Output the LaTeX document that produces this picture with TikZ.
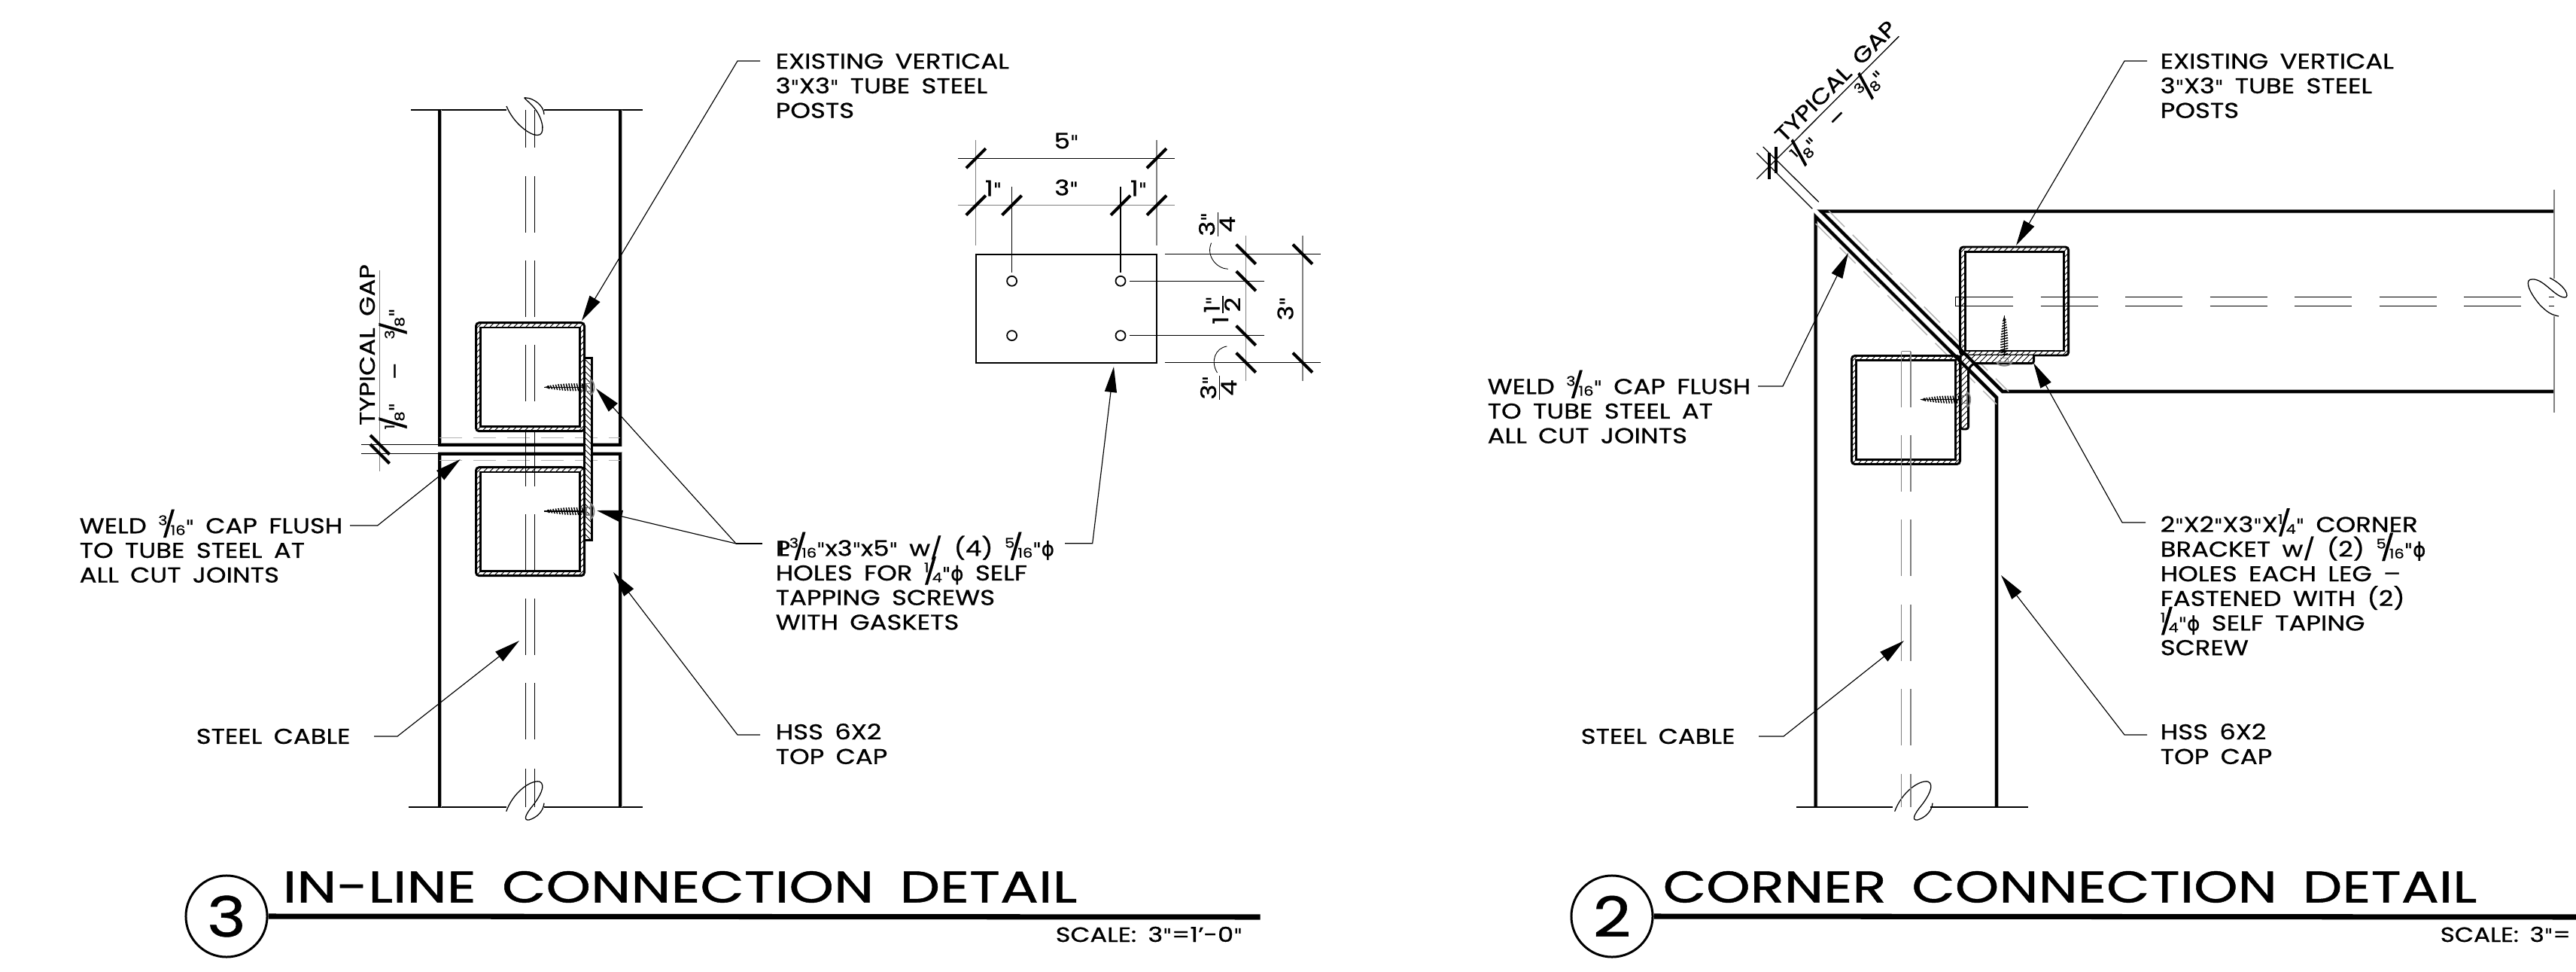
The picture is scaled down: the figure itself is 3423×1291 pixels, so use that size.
\documentclass[tikz,border=0pt]{standalone}
\usepackage{fontspec}
\usetikzlibrary{arrows.meta}
\setmainfont[WordSpace=1.7,FakeStretch=1.19,FakeBold=0.8]{Poppins}
\newfontfamily\symfont[FakeBold=0.8]{DejaVu Sans}
\newcommand\cadtxt{\fontsize{8.1}{9.3}\selectfont}
\newcommand\inch{{\symfont\fontsize{7}{9}\selectfont"}}
\newcommand\fr[2]{\smash{\raisebox{.38em}{\fontsize{5}{5}\selectfont #1}\kern-.26em{\fontsize{9.5}{9.5}\selectfont/}\kern-.26em\raisebox{-.08em}{\fontsize{5}{5}\selectfont #2}}}
\newcommand\phisym{{\symfont\fontsize{7.5}{9}\selectfont ϕ}}
\newcommand\plsym{\rlap{P}\kern.12em L}
\newcommand\stk[2]{$\frac{\hbox{\cadtxt #1}}{\hbox{\cadtxt #2}}$}
\tikzset{
  thk/.style={line width=1.14pt,line cap=butt,preaction={draw=gray!60,line width=1.45pt}},
  tb/.style={line width=0.85pt},
  thn/.style={line width=0.36pt},
  hat/.style={line width=0.25pt},
  tick/.style={line width=1.15pt},
  gaydash/.style={line width=0.4pt,draw=gray!60,dash pattern=on 8.5pt off 4.27pt},
  leader/.style={line width=0.33pt},
  arr/.style={leader,-{Triangle[length=0.34cm,width=0.16cm]}},
  lbl/.style={anchor=west,inner sep=0pt,align=left,font=\cadtxt},
  dim/.style={inner sep=0pt,font=\cadtxt},
  titletext/.style={anchor=west,inner sep=0pt,font=\fontsize{16.7}{18}\selectfont},
  scaletext/.style={anchor=west,inner sep=0pt,font=\fontsize{7.8}{9}\selectfont},
  numcirc/.style={circle,draw,line width=.85pt,minimum size=1.08cm,inner sep=0pt,font=\fontsize{21}{24}\selectfont},
  bar/.style={line width=2pt}
}
\newcommand\tube[2]{%
  \begin{scope}[shift={(#1,#2)}]
    \begin{scope}
      \clip[rounded corners=1.2pt] (0,0) rectangle (144,144);
      \foreach \k in {-150,-142,...,150} {\draw[hat] (\k+150,0) -- (\k,150);}
      \fill[white] (6.3,6.3) rectangle (138,138);
    \end{scope}
    \draw[tb,rounded corners=1.2pt] (0,0) rectangle (144,144);
    \draw[tb] (6.3,6.3) rectangle (138,138);
  \end{scope}}
\newcommand\screw[3]{%
  \begin{scope}[shift={(#1,#2)},rotate=#3]
    \draw[line width=.45pt] (0,0) -- (54,0);
    \fill (0,0) -- (7,-2) -- (7,2) -- cycle;
    \foreach \i/\h in {0/2,1/2.5,2/3,3/3.5,4/4,5/4.3,6/4.6,7/4.8,8/5,9/5,10/5,11/5,12/5,13/5} {
      \draw[line width=.42pt] (6+\i*3.5-1.2,-\h) -- (6+\i*3.5+1.2,\h);}
    \draw[line width=.3pt,gray] (56,-5) rectangle (62,5);
    \draw[line width=.5pt,gray] (62,-10) .. controls (68,-7) and (68,7) .. (62,10) -- cycle;
  \end{scope}}
\begin{document}
\begin{tikzpicture}[x=0.01cm,y=-0.01cm]
\useasboundingbox (0,0) rectangle (3423,1291);

% ---------- left detail : posts ----------
\draw[thn] (546,146) -- (673,146);
\draw[thn] (723,146) -- (854,146);
\draw[thn] (543,1072) -- (673,1072);
\draw[thn] (723,1072) -- (854,1072);
\draw[thk] (584.3,146) -- (584.3,590.7) -- (824.3,590.7) -- (824.3,146);
\draw[thk] (584.3,1072) -- (584.3,602.7) -- (824.3,602.7) -- (824.3,1072);
\draw[gaydash] (584,581.7) -- (824,581.7);
\draw[gaydash] (584,611.7) -- (824,611.7);
\draw[thn] (480,590.7) -- (584,590.7);
\draw[thn] (480,602.7) -- (584,602.7);
\draw[thn,gray] (504.7,359) -- (504.7,626);
\draw[tick] (492,578) -- (517.5,603.5);
\draw[tick] (492,590) -- (517.5,615.5);

% break lines
\draw[thn] (673,141) .. controls (683,165) and (705,180) .. (714,179.5)
  .. controls (725,180) and (722,160) .. (712,146) .. controls (705,136) and (692,128) .. (699,130)
  .. controls (708,130) and (723,140) .. (723,152);
\draw[thn] (672.7,1077.7) .. controls (682,1052) and (705,1036) .. (716.7,1038)
  .. controls (727,1042) and (716,1060) .. (708,1070) .. controls (698,1082) and (695,1090) .. (703,1089)
  .. controls (713,1086) and (722,1078) .. (723,1066.7);

% tubes
\tube{632.5}{428.7}
\tube{632.5}{620.7}

% cable
\foreach \a/\b in {146/196,234/309,346/421,458/533,571/646,683/758,795/870,907/982,1020.5/1072} {
  \draw[thn] (698.3,\a) -- (698.3,\b);
  \draw[thn] (710.3,\a) -- (710.3,\b);
}

% plate on the posts
\begin{scope}
  \clip (776,475.7) rectangle (786.7,717.7);
  \fill[white] (776,475.7) rectangle (786.7,717.7);
  \foreach \k in {470,478,...,720} {\draw[hat] (770,\k) -- (795,\k+25);}
\end{scope}
\draw[tb] (776,475.7) rectangle (786.7,717.7);
\screw{723}{514.3}{0}
\screw{723}{679}{0}

% ---------- left detail : plate view ----------
\draw[line width=.65pt] (1296.8,337.7) rectangle (1537,481.7);
\foreach \hx/\hy in {1344.6/373.3,1489/373.3,1344.6/445.7,1489/445.7} {
  \draw[line width=.5pt] (\hx,\hy) circle[radius=6.5];
}
\draw[thn] (1272.9,210.3) -- (1561.4,210.3);
\draw[thn,gray] (1272.9,272.7) -- (1561.4,272.7);
\draw[thn,gray] (1296.8,186) -- (1296.8,325.7);
\draw[thn,gray] (1537,186) -- (1537,325.7);
\draw[thn] (1344.6,248.3) -- (1344.6,361.7);
\draw[thn] (1489,248.3) -- (1489,361.7);
\foreach \tx/\ty in {1296.8/210.3,1537/210.3,1296.8/272.7,1344.6/272.7,1489/272.7,1537/272.7} {
  \draw[tick] (\tx-13,\ty+13) -- (\tx+13,\ty-13);
}
\draw[thn,gray] (1655.7,313.3) -- (1655.7,505.7);
\draw[thn,gray] (1731,313.3) -- (1731,505.7);
\draw[thn] (1547.9,337.7) -- (1755.4,337.7);
\draw[thn] (1547.9,481.7) -- (1755.4,481.7);
\draw[thn] (1500.7,373.3) -- (1680,373.3);
\draw[thn] (1500.7,445.7) -- (1680,445.7);
\foreach \tx/\ty in {1655.7/337.7,1655.7/373.3,1655.7/445.7,1655.7/481.7,1731/337.7,1731/481.7} {
  \draw[tick] (\tx-13,\ty-13) -- (\tx+13,\ty+13);
}
\draw[line width=.25pt] (1609.6,322.7) .. controls (1602,340) and (1617,357) .. (1631.8,357.3);
\draw[line width=.25pt] (1630.4,460) .. controls (1615,462) and (1608,480) .. (1617.5,495);

\node[dim] (d5a) at (1417,187) {5\inch};
\node[dim] (d3a) at (1417,249) {3\inch};
\node[dim] (d1a) at (1320,250) {1\inch};
\node[dim] (d1b) at (1513,250) {1\inch};
\node[dim,rotate=90] (d34a) at (1617,298) {\stk{3\inch}{4}};
\node[dim,rotate=90] (d112) at (1624,410) {1\stk{1\inch}{2}};
\node[dim,rotate=90] (d3b) at (1708,410) {3\inch};
\node[dim,rotate=90] (d34b) at (1619,515) {\stk{3\inch}{4}};

% gap labels left
\node[dim,rotate=90] (gapL) at (488,458) {TYPICAL GAP};
\node[dim,rotate=90] (gapLb) at (526,490) {\fr{1}{8}\inch\ \ --\ \ \fr{3}{8}\inch};

% ---------- right detail ----------
\draw[thk] (3394,280.7) -- (2420,280.7) -- (2661,520) -- (3394,520);
\draw[thk] (2412.7,1072) -- (2412.7,288) -- (2653,528) -- (2653,1072);
\draw[thn] (2387,1072) -- (2695,1072);
\draw[thn,gray] (3394,252) -- (3394,370);
\draw[thn,gray] (3394,420) -- (3394,548);
\draw[gaydash] (2430,280) -- (2669,520);
\draw[gaydash] (2412.7,297) -- (2653,537);
\draw[thn] (2416.7,268.3) -- (2342.7,195);
\draw[thn] (2408.3,277.3) -- (2334.3,203.3);
\draw[thn] (2334.3,237.7) -- (2523.3,48.3);
\draw[tick] (2351.3,203) -- (2351.3,238);
\draw[tick] (2359.7,195) -- (2359.7,230);
\node[dim,rotate=45] (gapR) at (2439,108) {TYPICAL GAP};
\node[dim,rotate=45] (gapRb) at (2444,155) {\fr{1}{8}\inch\ \ --\ \ \fr{3}{8}\inch};

% break lines right
\fill[white] (2515,1060) rectangle (2565,1085);
\draw[thn] (2517.7,1077.7) .. controls (2527,1052) and (2550,1036) .. (2561.7,1038)
  .. controls (2572,1042) and (2561,1060) .. (2553,1070) .. controls (2543,1082) and (2540,1090) .. (2548,1089)
  .. controls (2558,1086) and (2567,1078) .. (2568,1066.7);
\draw[thn] (3388,369) .. controls (3410,380) and (3415,395) .. (3408,395)
  .. controls (3395,395) and (3380,370) .. (3365,371) .. controls (3355,370) and (3358,385) .. (3375,405)
  .. controls (3385,415) and (3390,418) .. (3400,420);

\tube{2604.7}{328}
\tube{2460.5}{472.5}

% cables
\foreach \a/\b in {466.7/540.7,577.7/653,690/765,803/878,915/990,1028/1072} {
  \draw[thn,gray] (2526.7,\a) -- (2526.7,\b);
  \draw[thn,gray] (2539,\a) -- (2539,\b);
}
\draw[thn,gray] (2526.7,466.7) -- (2539,466.7);
\foreach \a/\b in {2598.3/2675,2711.7/2787.7,2824/2900,2936.5/3012.5,3049/3125,3161.5/3237.7,3274/3350,3386.5/3394} {
  \draw[thn] (\a,394.3) -- (\b,394.3);
  \draw[thn] (\a,406.3) -- (\b,406.3);
}
\draw[thn] (2598.3,394.3) -- (2598.3,406.3);

% bracket
\begin{scope}
  \clip (2702.7,472) -- (2702.7,482.7) -- (2622,482.7) -- (2615.7,490) -- (2615.7,570) -- (2605,570) -- (2605,472) -- cycle;
  \fill[white] (2600,470) rectangle (2710,575);
  \foreach \k in {2480,2488,...,2800} {\draw[hat] (\k,600) -- (\k+130,470);}
\end{scope}
\draw[tb,rounded corners=1pt] (2702.7,472) -- (2702.7,482.7) -- (2622,482.7) -- (2615.7,490) -- (2615.7,570) -- (2605,570) -- (2605,472);
\draw[line width=1.14pt] (2590,449) -- (2661,520);
\draw[line width=1.14pt] (2590,465) -- (2653,528);
\screw{2551.7}{530.7}{0}
\screw{2663.3}{419.3}{-90}

% ---------- leaders ----------
\coordinate (la1) at (1010,81); \coordinate (la2) at (980,81); \coordinate (la3) at (773,426);
\draw[arr] (la1) -- (la2) -- (la3);
\coordinate (lb1) at (465,698); \coordinate (lb2) at (501.7,698); \coordinate (lb3) at (611.7,610);
\draw[arr] (lb1) -- (lb2) -- (lb3);
\coordinate (lc1) at (497,978); \coordinate (lc2) at (528,978); \coordinate (lc3) at (690,851);
\draw[arr] (lc1) -- (lc2) -- (lc3);
\coordinate (ld1) at (1010,976); \coordinate (ld2) at (980,976); \coordinate (ld3) at (815,760);
\draw[arr] (ld1) -- (ld2) -- (ld3);
\coordinate (le1) at (1012.7,722); \coordinate (le2) at (978,722); \coordinate (le3) at (792,516); \coordinate (le4) at (793,678);
\draw[leader] (le1) -- (le2);
\draw[arr] (le2) -- (le3);
\draw[arr] (le2) -- (le4);
\coordinate (lf1) at (1415,721.7); \coordinate (lf2) at (1451.7,721.7); \coordinate (lf3) at (1480,487);
\draw[arr] (lf1) -- (lf2) -- (lf3);

\coordinate (ra1) at (2853,81); \coordinate (ra2) at (2823,81); \coordinate (ra3) at (2679,326);
\draw[arr] (ra1) -- (ra2) -- (ra3);
\coordinate (rb1) at (2336,513); \coordinate (rb2) at (2369,513); \coordinate (rb3) at (2456,336);
\draw[arr] (rb1) -- (rb2) -- (rb3);
\coordinate (rc1) at (2337,978); \coordinate (rc2) at (2370,978); \coordinate (rc3) at (2530,851);
\draw[arr] (rc1) -- (rc2) -- (rc3);
\coordinate (rd1) at (2853,976); \coordinate (rd2) at (2823,976); \coordinate (rd3) at (2659,764);
\draw[arr] (rd1) -- (rd2) -- (rd3);
\coordinate (re1) at (2851,694); \coordinate (re2) at (2820,694); \coordinate (re3) at (2702,482);
\draw[arr] (re1) -- (re2) -- (re3);

% ---------- texts ----------
\node[lbl] (t1) at (1030,114) {EXISTING VERTICAL\\3\inch X3\inch\ TUBE STEEL\\POSTS};
\node[lbl] (t2) at (105,731) {WELD \fr{3}{16}\inch\ CAP FLUSH\\TO TUBE STEEL AT\\ALL CUT JOINTS};
\node[lbl] (t3) at (260,978) {STEEL CABLE};
\node[lbl] (t4) at (1030,774) {\plsym\fr{3}{16}\inch x3\inch x5\inch\ w/ (4) \fr{5}{16}\inch\phisym\\HOLES FOR \fr{1}{4}\inch\phisym\ SELF\\TAPPING SCREWS\\WITH GASKETS};
\node[lbl] (t5) at (1030,988) {HSS 6X2\\TOP CAP};

\node[lbl] (r1) at (2870,114) {EXISTING VERTICAL\\3\inch X3\inch\ TUBE STEEL\\POSTS};
\node[lbl] (r2) at (1976,546) {WELD \fr{3}{16}\inch\ CAP FLUSH\\TO TUBE STEEL AT\\ALL CUT JOINTS};
\node[lbl] (r3) at (2100,978) {STEEL CABLE};
\node[lbl] (r4) at (2870,778) {2\inch X2\inch X3\inch X\fr{1}{4}\inch\ CORNER\\BRACKET w/ (2) \fr{5}{16}\inch\phisym\\HOLES EACH LEG --\\FASTENED WITH (2)\\\fr{1}{4}\inch\phisym\ SELF TAPING\\SCREW};
\node[lbl] (r5) at (2870,988) {HSS 6X2\\TOP CAP};

% ---------- titles ----------
\node[numcirc] (c3) at (301,1217) {3};
\coordinate (b3r) at (1674.5,1218);
\draw[bar] (c3.east) -- (b3r);
\node[titletext] (title3) at (375,1178) {\resizebox{10.55cm}{\height}{IN-LINE CONNECTION DETAIL}};
\node[scaletext] (scale3) at (1402,1241) {\resizebox{2.48cm}{\height}{SCALE: 3\inch =1'-0\inch}};

\node[numcirc] (c2) at (2142,1217) {2};
\coordinate (b2r) at (3423,1218);
\draw[bar] (c2.east) -- (b2r);
\node[titletext] (title2) at (2209,1178) {\resizebox{10.81cm}{\height}{CORNER CONNECTION DETAIL}};
\node[scaletext] (scale2) at (3242,1241) {SCALE: 3\inch =};
\end{tikzpicture}
\end{document}
